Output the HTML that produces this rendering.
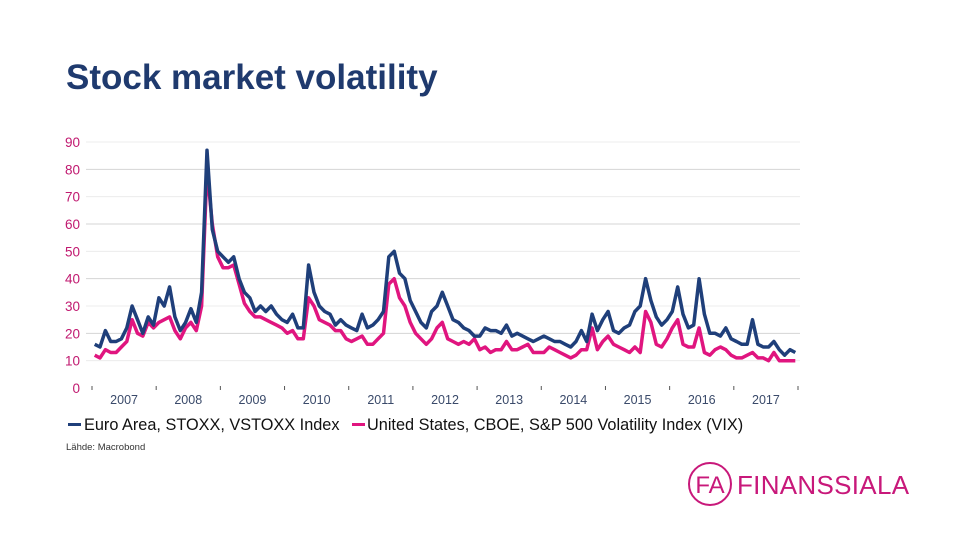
<!DOCTYPE html>
<html><head><meta charset="utf-8"><style>
body{margin:0;background:#fff;width:960px;height:540px;overflow:hidden;font-family:"Liberation Sans",sans-serif}
#title{position:absolute;left:66px;top:59px;font-size:35px;font-weight:bold;color:#1f3a6e;margin:0;line-height:1.1}
</style></head><body>
<h1 id="title">Stock market volatility</h1>
<svg id="chart" width="960" height="540" style="position:absolute;left:0;top:0">
<g id="grid"></g>
<g id="yaxis"></g>
<g id="xaxis"></g>
<g id="series"></g>
<g font-size="16.3" fill="#111">
<rect x="68" y="423" width="13" height="3" fill="#1f3f7a"/>
<text x="84" y="430">Euro Area, STOXX, VSTOXX Index</text>
<rect x="352" y="423" width="13" height="3" fill="#e0157f"/>
<text x="367" y="430">United States, CBOE, S&amp;P 500 Volatility Index (VIX)</text>
</g>
<text x="66" y="450" font-size="9.5" fill="#333">Lähde: Macrobond</text>
<g>
<circle cx="710" cy="484" r="21" fill="none" stroke="#c8187a" stroke-width="2"/>
<text x="710" y="493" text-anchor="middle" font-size="24" fill="#c8187a">FA</text>
<text x="737" y="494" font-size="26" fill="#c8187a" letter-spacing="0.3">FINANSSIALA</text>
</g>
</svg>
<script>
const years=[2007,2008,2009,2010,2011,2012,2013,2014,2015,2016,2017];
const yTicks=[0,10,20,30,40,50,60,70,80,90];
const euroValues=[16,15,21,17,17,18,22,30,25,20,26,23,
33,30,37,26,21,24,29,24,35,87,58,50,
48,46,48,40,35,33,28,30,28,30,27,25,
24,27,22,22,45,35,30,28,27,23,25,23,
22,21,27,22,23,25,28,48,50,42,40,32,
28,24,22,28,30,35,30,25,24,22,21,19,
19,22,21,21,20,23,19,20,19,18,17,18,
19,18,17,17,16,15,17,21,17,27,21,25,
28,21,20,22,23,28,30,40,32,26,23,25,
28,37,27,22,23,40,27,20,20,19,22,18,
17,16,16,25,16,15,15,17,14,12,14,13];
const vixValues=[12,11,14,13,13,15,17,25,20,19,24,22,
24,25,26,21,18,22,24,21,30,80,60,48,
44,44,45,38,31,28,26,26,25,24,23,22,
20,21,18,18,33,30,25,24,23,21,21,18,
17,18,19,16,16,18,20,38,40,33,30,24,
20,18,16,18,22,24,18,17,16,17,16,18,
14,15,13,14,14,17,14,14,15,16,13,13,
13,15,14,13,12,11,12,14,14,22,14,17,
19,16,15,14,13,15,13,28,24,16,15,18,
22,25,16,15,15,22,13,12,14,15,14,12,
11,11,12,13,11,11,10,13,10,10,10,10];
const NS='http://www.w3.org/2000/svg';
const x0=92,x1=798,yb=388,yt=142;
function xs(t){return x0+(t-2007)/11*(x1-x0);}
function ys(v){return yb-v/90*(yb-yt);}
function mk(tag,attrs,parent){const e=document.createElementNS(NS,tag);for(const k in attrs)e.setAttribute(k,attrs[k]);parent.appendChild(e);return e;}
const grid=document.getElementById('grid'),ya=document.getElementById('yaxis'),xa=document.getElementById('xaxis'),se=document.getElementById('series');
yTicks.forEach(v=>{
 if(v>0){const l=mk('line',{x1:86,x2:800,y1:ys(v),y2:ys(v),stroke:v%20==0?'#d4d4d4':'#ececec','stroke-width':1},grid);
 
 }
 const t=mk('text',{x:80,y:ys(v)+5,'text-anchor':'end','font-size':13.5,fill:'#c0186f'},ya);
 t.textContent=v;
 
 
});
for(let i=0;i<=years.length;i++){
 const tk=mk('line',{x1:xs(2007+i),x2:xs(2007+i),y1:386,y2:390,stroke:'#555','stroke-width':1},xa);
 
 
}
years.forEach(y=>{
 const t=mk('text',{x:xs(y+0.5),y:404,'text-anchor':'middle','font-size':12.5,fill:'#3a4a6a'},xa);
 t.textContent=y;
 
 
});
function pts(arr){return arr.map((v,i)=>xs(2007+(i+0.5)/12).toFixed(1)+','+ys(v).toFixed(1)).join(' ');}
const pv=mk('polyline',{points:pts(vixValues),fill:'none',stroke:'#e0157f','stroke-width':3.5,'stroke-linejoin':'round'},se);


const pe=mk('polyline',{points:pts(euroValues),fill:'none',stroke:'#1f3f7a','stroke-width':3.5,'stroke-linejoin':'round'},se);


</script>
</body></html>
